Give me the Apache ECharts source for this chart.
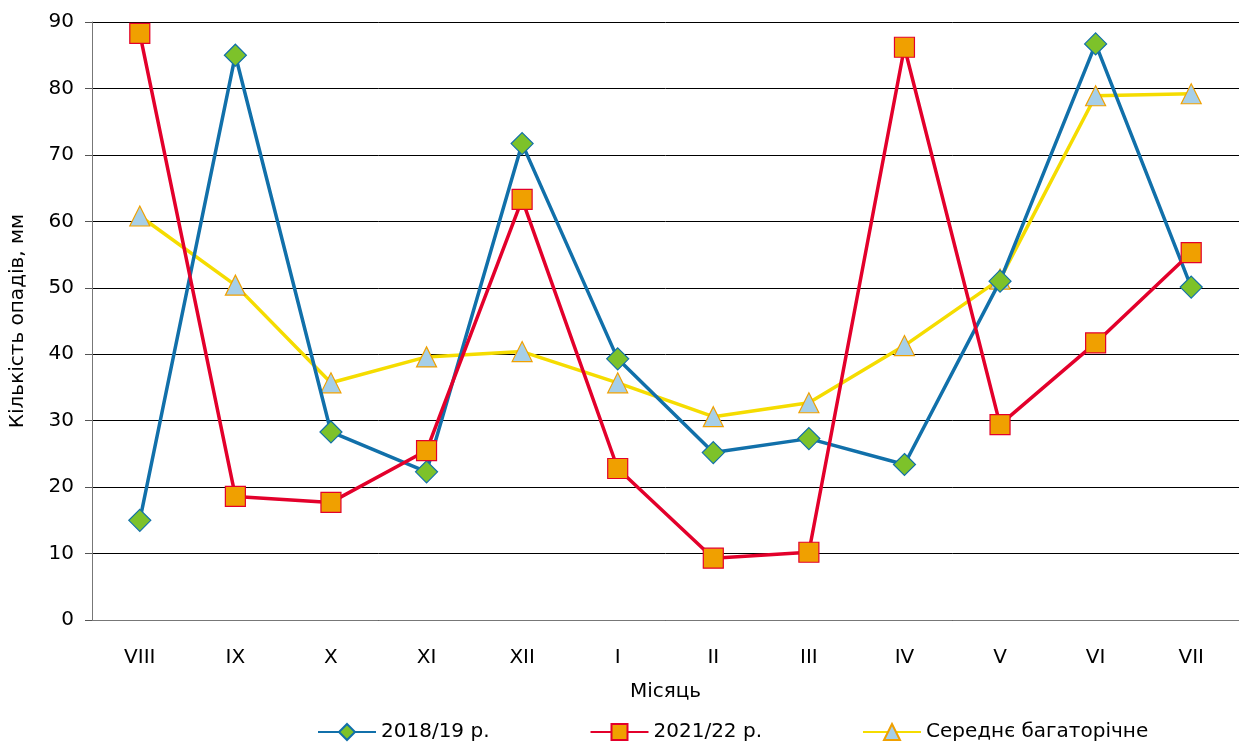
<!DOCTYPE html>
<html>
<head>
<meta charset="utf-8">
<script src="https://cdn.jsdelivr.net/npm/echarts@6/dist/echarts.min.js"></script>
<style>
  html, body { margin: 0; padding: 0; background: #fff; }
  #chart { width: 1239px; height: 747px; }
</style>
</head>
<body>
<div id="chart"></div>
<script>
var months = ['VIII', 'IX', 'X', 'XI', 'XII', 'I', 'II', 'III', 'IV', 'V', 'VI', 'VII'];
var y2018 = [15.0, 85.0, 28.3, 22.3, 71.7, 39.3, 25.2, 27.3, 23.4, 51.0, 86.7, 50.1];
var y2021 = [88.3, 18.6, 17.7, 25.5, 63.3, 22.8, 9.3, 10.2, 86.2, 29.4, 41.7, 55.3];
var avg = [60.8, 50.4, 35.7, 39.6, 40.4, 35.7, 30.6, 32.7, 41.3, 51.3, 78.9, 79.2];

var font = 'DejaVu Sans, sans-serif';
var myChart = echarts.init(document.getElementById('chart'));
var option = {
    animation: false,
    textStyle: { fontFamily: font },
    grid: { left: 92, right: 0, top: 22, bottom: 127 },
    legend: {
        bottom: 0,
        left: 312,
        itemGap: 100,
        itemWidth: 58,
        itemHeight: 20,
        textStyle: { fontSize: 20, color: '#000', fontFamily: font },
        data: ['2018/19 р.', '2021/22 р.', 'Середнє багаторічне']
    },
    xAxis: {
        type: 'category',
        data: months,
        name: 'Місяць',
        nameLocation: 'middle',
        nameGap: 62,
        nameTextStyle: { fontSize: 20, color: '#000' },
        axisLine: { lineStyle: { color: '#777' } },
        axisTick: { show: false },
        axisLabel: { fontSize: 20, color: '#000', margin: 28 }
    },
    yAxis: {
        type: 'value',
        min: 0,
        max: 90,
        interval: 10,
        name: 'Кількість опадів, мм',
        nameLocation: 'middle',
        nameGap: 64,
        nameTextStyle: { fontSize: 20, color: '#000' },
        axisLine: { show: true, lineStyle: { color: '#777' } },
        axisTick: { show: true, length: 7, lineStyle: { color: '#555' } },
        axisLabel: { fontSize: 20, color: '#000', margin: 18 },
        splitLine: { lineStyle: { color: '#000', width: 1 } }
    },
    series: [
        {
            name: '2018/19 р.',
            type: 'line',
            data: y2018,
            symbol: 'diamond',
            symbolSize: 22,
            lineStyle: { color: '#1170aa', width: 3.5 },
            itemStyle: { color: '#7dc22a', borderColor: '#1170aa', borderWidth: 1.2 },
            z: 3
        },
        {
            name: '2021/22 р.',
            type: 'line',
            data: y2021,
            symbol: 'rect',
            symbolSize: 20,
            lineStyle: { color: '#e3002b', width: 3.5 },
            itemStyle: { color: '#f0a000', borderColor: '#e3002b', borderWidth: 1.2 },
            z: 4
        },
        {
            name: 'Середнє багаторічне',
            type: 'line',
            data: avg,
            symbol: 'triangle',
            symbolSize: 20,
            lineStyle: { color: '#f5dc00', width: 3.5 },
            itemStyle: { color: '#a6cfe8', borderColor: '#f0a000', borderWidth: 1.2 },
            z: 2
        }
    ]
};
myChart.setOption(option);
</script>
</body>
</html>
